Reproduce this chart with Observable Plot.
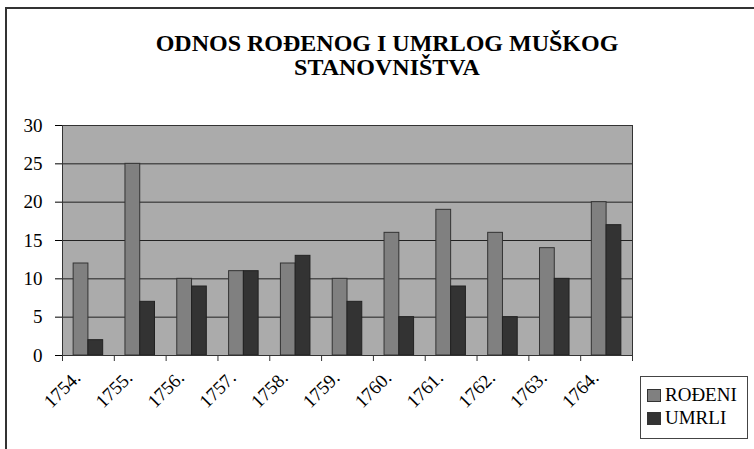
<!DOCTYPE html>
<html>
<head>
<meta charset="utf-8">
<script src="https://cdn.jsdelivr.net/npm/d3@7"></script>
<script src="https://cdn.jsdelivr.net/npm/@observablehq/plot@0.6"></script>
<style>
  html, body { margin: 0; padding: 0; background: #fff; }
  #wrap { position: relative; width: 754px; height: 449px; overflow: hidden; font-family: "Liberation Serif", "Noto Serif", "DejaVu Serif", "Times New Roman", serif; }
  #border { position: absolute; left: 5px; top: 7px; width: 900px; height: 600px; border-left: 2px solid #333; border-top: 2px solid #333; }
  #title { position: relative; box-sizing: border-box; width: 754px; height: 90px; padding-top: 31px; padding-left: 20px;
           text-align: center; font-weight: bold; font-size: 24px; line-height: 24px; color: #000; }
  #legend { position: absolute; left: 640px; top: 376px; width: 108px; height: 63px; box-sizing: border-box;
            border: 1px solid #444; background: #fff; font-size: 19px; color: #000; }
  .item { position: absolute; left: 6px; display: flex; align-items: center; height: 20px; }
  .sw { width: 12px; height: 11px; border: 1px solid #333; margin-right: 4px; }
  #chart svg { display: block; }
</style>
</head>
<body>
<div id="wrap">
  <div id="border"></div>
  <div id="title">ODNOS ROĐENOG I UMRLOG MUŠKOG<br>STANOVNIŠTVA</div>
  <div id="chart"></div>
  <div id="legend"></div>
</div>
<script>
const years = ["1754.", "1755.", "1756.", "1757.", "1758.", "1759.", "1760.", "1761.", "1762.", "1763.", "1764."];
const rodeni = [12, 25, 10, 11, 12, 10, 16, 19, 16, 14, 20];
const umrli = [2, 7, 9, 11, 13, 7, 5, 9, 5, 10, 17];
const seriesNames = ["ROĐENI", "UMRLI"];
const seriesColors = ["#808080", "#333333"];
const yTicks = [0, 5, 10, 15, 20, 25, 30];

const rows = years.map((y, i) => ({year: y, rodeni: rodeni[i], umrli: umrli[i]}));

const W = 754, H = 359;
const mL = 62, mR = 122, mT = 35, mB = 94;
const bw = (W - mL - mR) / years.length;
const barFrac = 0.285;
const serif = "'Liberation Serif', 'Noto Serif', 'DejaVu Serif', 'Times New Roman', serif";

const plot = Plot.plot({
  width: W,
  height: H,
  marginLeft: mL,
  marginRight: mR,
  marginTop: mT,
  marginBottom: mB,
  style: {fontFamily: serif, fontSize: "19px", color: "#000", background: "transparent", overflow: "visible"},
  x: {domain: years, padding: 0, round: false, axis: null},
  y: {domain: [0, 30], ticks: yTicks, tickSize: 7, tickPadding: 13, label: null},
  marks: [
    Plot.frame({fill: "#ababab", stroke: null}),
    Plot.ruleY(yTicks.slice(1, -1), {stroke: "#222", strokeWidth: 1}),
    Plot.barY(rows, {x: "year", y: "rodeni", fill: seriesColors[0], stroke: "#333", strokeWidth: 1,
      insetLeft: bw * (0.5 - barFrac), insetRight: bw * 0.5}),
    Plot.barY(rows, {x: "year", y: "umrli", fill: seriesColors[1], stroke: "#222", strokeWidth: 1,
      insetLeft: bw * 0.5, insetRight: bw * (0.5 - barFrac)}),
    Plot.frame({stroke: "#333", strokeWidth: 1}),
    Plot.ruleX(years, {x: d => d, y1: 0, y2: 0, dx: -bw / 2, insetBottom: -6, stroke: "#333"}),
    Plot.ruleX(years.slice(-1), {x: d => d, y1: 0, y2: 0, dx: bw / 2, insetBottom: -6, stroke: "#333"}),
    Plot.text(years, {x: d => d, y: 0, text: d => d, rotate: -45, textAnchor: "end", dx: -11, dy: 19, fontSize: 19, fontFamily: serif, fill: "#000"})
  ]
});
document.getElementById("chart").appendChild(plot);

const legend = document.getElementById("legend");
seriesNames.forEach((name, i) => {
  const item = document.createElement("div");
  item.className = "item";
  item.style.top = (8 + i * 23) + "px";
  const sw = document.createElement("div");
  sw.className = "sw";
  sw.style.background = seriesColors[i];
  const label = document.createElement("span");
  label.textContent = name;
  item.appendChild(sw);
  item.appendChild(label);
  legend.appendChild(item);
});
</script>
</body>
</html>
